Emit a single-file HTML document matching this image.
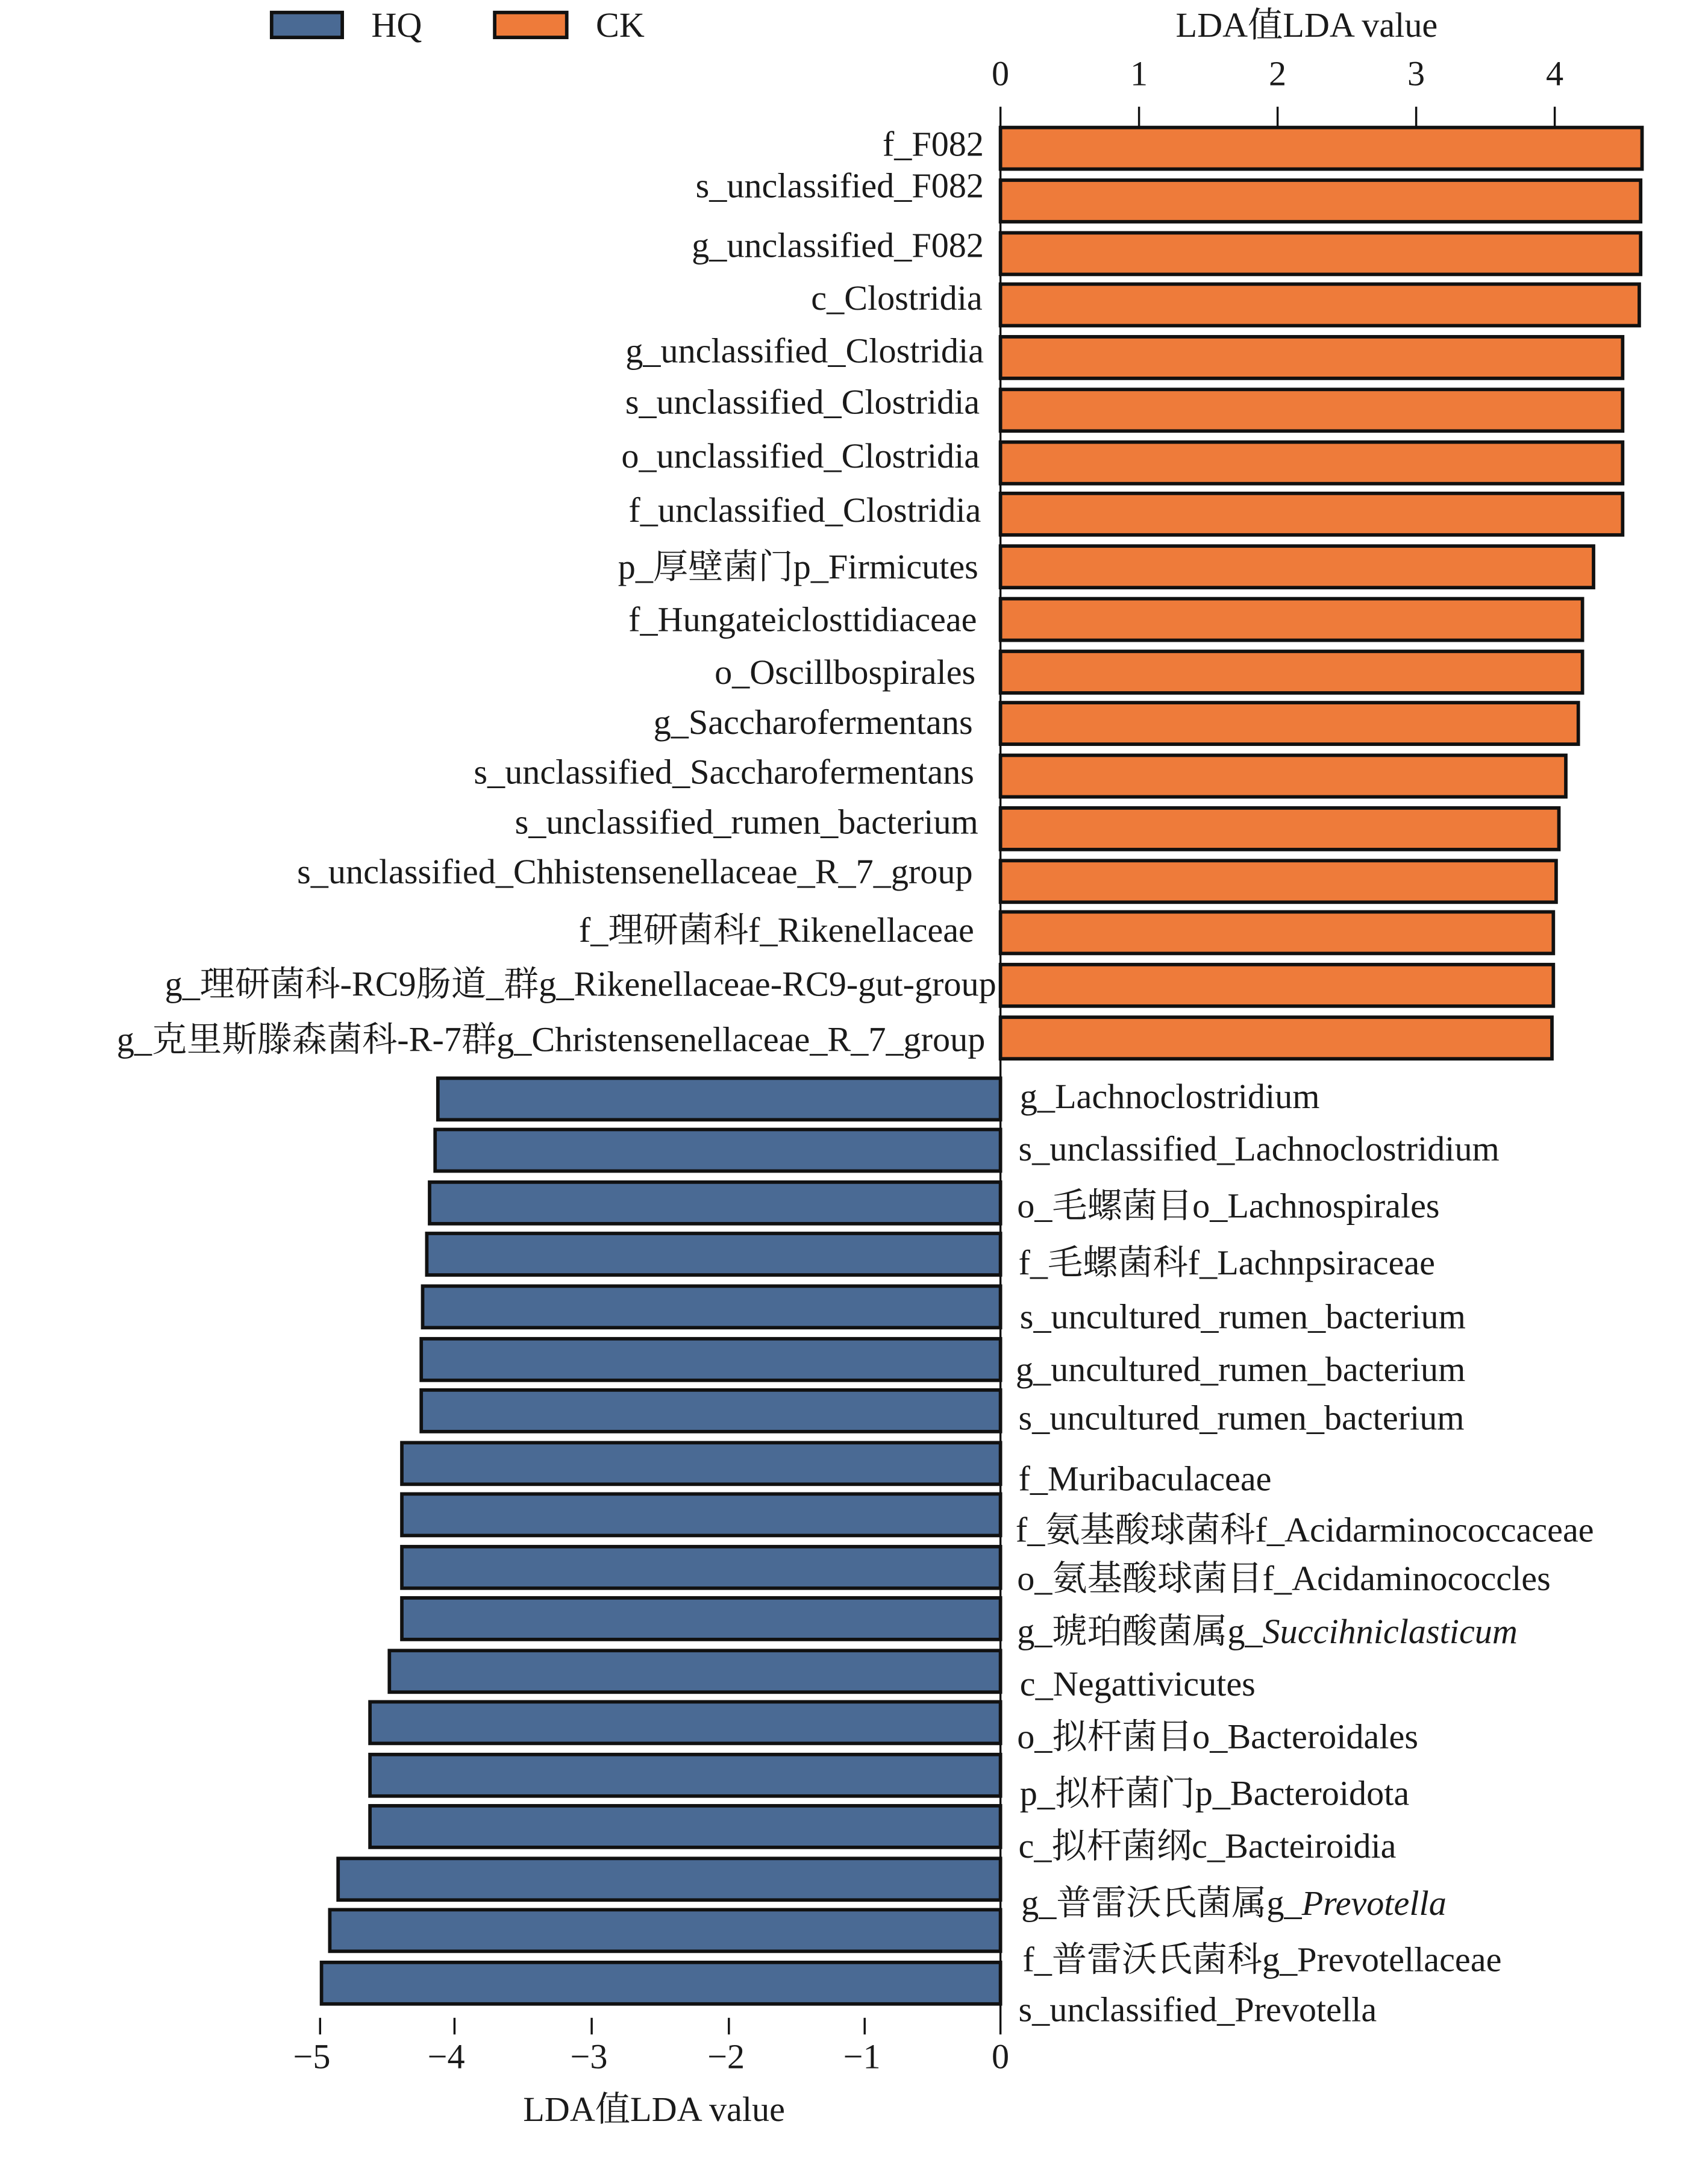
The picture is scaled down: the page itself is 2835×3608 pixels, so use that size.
<!DOCTYPE html>
<html><head><meta charset="utf-8"><style>html,body{margin:0;padding:0;background:#fff}svg{display:block}</style></head><body>
<svg xmlns="http://www.w3.org/2000/svg" width="2835" height="3608" viewBox="0 0 1232.6 1568.7" preserveAspectRatio="none" font-family="'Liberation Serif','Noto Serif CJK SC','Noto Sans CJK SC',serif" font-size="25.3" fill="#1a1a1a">
<rect width="1240" height="1570" fill="#fff"/>
<rect x="196" y="9" width="51" height="18" fill="#4a6a94" stroke="#111" stroke-width="2.5"/>
<text x="268" y="18" dominant-baseline="central">HQ</text>
<rect x="357" y="9" width="52" height="18" fill="#ee7b3a" stroke="#111" stroke-width="2.5"/>
<text x="430" y="18" dominant-baseline="central">CK</text>
<text x="943" y="18" text-anchor="middle" dominant-baseline="central">LDA值LDA value</text>
<g stroke="#111" stroke-width="1.5">
<line x1="722" y1="77" x2="722" y2="1468"/>
<line x1="822" y1="77" x2="822" y2="92"/><line x1="922" y1="77" x2="922" y2="92"/>
<line x1="1022" y1="77" x2="1022" y2="92"/><line x1="1122" y1="77" x2="1122" y2="92"/>
<line x1="231" y1="1456" x2="231" y2="1468"/><line x1="328" y1="1456" x2="328" y2="1468"/>
<line x1="427" y1="1456" x2="427" y2="1468"/><line x1="526" y1="1456" x2="526" y2="1468"/>
<line x1="624" y1="1456" x2="624" y2="1468"/>
</g>
<g text-anchor="middle" dominant-baseline="central">
<text x="722" y="53">0</text><text x="822" y="53">1</text><text x="922" y="53">2</text><text x="1022" y="53">3</text><text x="1122" y="53">4</text>
<text x="225" y="1484">−5</text><text x="322" y="1484">−4</text><text x="425" y="1484">−3</text><text x="524" y="1484">−2</text><text x="622" y="1484">−1</text><text x="722" y="1484">0</text>
<text x="472" y="1522">LDA值LDA value</text>
</g>
<g fill="#ee7b3a" stroke="#111" stroke-width="2.5">
<rect x="722" y="92" width="463" height="30"/>
<rect x="722" y="130" width="462" height="30"/>
<rect x="722" y="168" width="462" height="30"/>
<rect x="722" y="205" width="461" height="30"/>
<rect x="722" y="243" width="449" height="30"/>
<rect x="722" y="281" width="449" height="30"/>
<rect x="722" y="319" width="449" height="30"/>
<rect x="722" y="356" width="449" height="30"/>
<rect x="722" y="394" width="428" height="30"/>
<rect x="722" y="432" width="420" height="30"/>
<rect x="722" y="470" width="420" height="30"/>
<rect x="722" y="507" width="417" height="30"/>
<rect x="722" y="545" width="408" height="30"/>
<rect x="722" y="583" width="403" height="30"/>
<rect x="722" y="621" width="401" height="30"/>
<rect x="722" y="658" width="399" height="30"/>
<rect x="722" y="696" width="399" height="30"/>
<rect x="722" y="734" width="398" height="30"/>
</g>
<g fill="#4a6a94" stroke="#111" stroke-width="2.5">
<rect x="316" y="778" width="406" height="30"/>
<rect x="314" y="815" width="408" height="30"/>
<rect x="310" y="853" width="412" height="30"/>
<rect x="308" y="890" width="414" height="30"/>
<rect x="305" y="928" width="417" height="30"/>
<rect x="304" y="966" width="418" height="30"/>
<rect x="304" y="1003" width="418" height="30"/>
<rect x="290" y="1041" width="432" height="30"/>
<rect x="290" y="1078" width="432" height="30"/>
<rect x="290" y="1116" width="432" height="30"/>
<rect x="290" y="1153" width="432" height="30"/>
<rect x="281" y="1191" width="441" height="30"/>
<rect x="267" y="1228" width="455" height="30"/>
<rect x="267" y="1266" width="455" height="30"/>
<rect x="267" y="1303" width="455" height="30"/>
<rect x="244" y="1341" width="478" height="30"/>
<rect x="238" y="1378" width="484" height="30"/>
<rect x="232" y="1416" width="490" height="30"/>
</g>
<g text-anchor="end" dominant-baseline="central">
<text x="710" y="104">f_F082</text>
<text x="710" y="134">s_unclassified_F082</text>
<text x="710" y="177">g_unclassified_F082</text>
<text x="709" y="215">c_Clostridia</text>
<text x="710" y="253">g_unclassified_Clostridia</text>
<text x="707" y="290">s_unclassified_Clostridia</text>
<text x="707" y="329">o_unclassified_Clostridia</text>
<text x="708" y="368">f_unclassified_Clostridia</text>
<text x="706" y="409">p_厚壁菌门p_Firmicutes</text>
<text x="705" y="447">f_Hungateiclosttidiaceae</text>
<text x="704" y="485">o_Oscillbospirales</text>
<text x="702" y="521">g_Saccharofermentans</text>
<text x="703" y="557">s_unclassified_Saccharofermentans</text>
<text x="706" y="593">s_unclassified_rumen_bacterium</text>
<text x="702" y="629">s_unclassified_Chhistensenellaceae_R_7_group</text>
<text x="703" y="671">f_理研菌科f_Rikenellaceae</text>
<text x="719" y="710">g_理研菌科-RC9肠道_群g_Rikenellaceae-RC9-gut-group</text>
<text x="711" y="750">g_克里斯滕森菌科-R-7群g_Christensenellaceae_R_7_group</text>
</g>
<g dominant-baseline="central">
<text x="736" y="791">g_Lachnoclostridium</text>
<text x="735" y="829">s_unclassified_Lachnoclostridium</text>
<text x="734" y="870">o_毛螺菌目o_Lachnospirales</text>
<text x="735" y="911">f_毛螺菌科f_Lachnpsiraceae</text>
<text x="736" y="950">s_uncultured_rumen_bacterium</text>
<text x="733" y="988">g_uncultured_rumen_bacterium</text>
<text x="735" y="1023">s_uncultured_rumen_bacterium</text>
<text x="735" y="1067">f_Muribaculaceae</text>
<text x="733" y="1104">f_氨基酸球菌科f_Acidarminococcaceae</text>
<text x="734" y="1139">o_氨基酸球菌目f_Acidaminococcles</text>
<text x="734" y="1177">g_琥珀酸菌属g_<tspan font-style="italic">Succihniclasticum</tspan></text>
<text x="736" y="1215">c_Negattivicutes</text>
<text x="734" y="1253">o_拟杆菌目o_Bacteroidales</text>
<text x="736" y="1294">p_拟杆菌门p_Bacteroidota</text>
<text x="735" y="1332">c_拟杆菌纲c_Bacteiroidia</text>
<text x="737" y="1373">g_普雷沃氏菌属g_<tspan font-style="italic">Prevotella</tspan></text>
<text x="738" y="1414">f_普雷沃氏菌科g_Prevotellaceae</text>
<text x="735" y="1450">s_unclassified_Prevotella</text>
</g>
</svg>
</body></html>
